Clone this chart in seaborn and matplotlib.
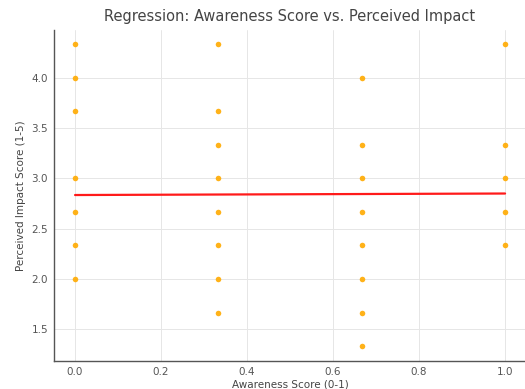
import matplotlib
matplotlib.use("Agg")
import matplotlib.pyplot as plt
import seaborn as sns
import numpy as np
import pandas as pd

# Data
awareness = [0.0] * 7 + [1/3] * 8 + [2/3] * 8 + [1.0] * 5
impact = [
    13/3, 4.0, 11/3, 3.0, 8/3, 7/3, 2.0,
    13/3, 11/3, 10/3, 3.0, 8/3, 7/3, 2.0, 5/3,
    4.0, 10/3, 3.0, 8/3, 7/3, 2.0, 5/3, 4/3,
    13/3, 10/3, 3.0, 8/3, 7/3,
]
# Fitted regression line (as drawn in the reference)
fit_x = [0.0, 1.0]
fit_y = [2.835, 2.85]

title = "Regression: Awareness Score vs. Perceived Impact"
xlabel = "Awareness Score (0-1)"
ylabel = "Perceived Impact Score (1-5)"

sns.set_theme(style="whitegrid")
plt.rcParams["font.family"] = ["DejaVu Sans"]

df = pd.DataFrame({"x": awareness, "y": impact})
fit = pd.DataFrame({"x": fit_x, "y": fit_y})

fig = plt.figure(figsize=(5.25, 3.89), dpi=100)
ax = fig.add_axes([0.102, 0.072, 0.901, 0.852])

sns.scatterplot(data=df, x="x", y="y", ax=ax, color="#FFAA00",
                s=16, linewidth=0, alpha=0.9)
sns.lineplot(data=fit, x="x", y="y", ax=ax, color="#FF1A1A", linewidth=1.6)

ax.set_xlim(-0.05, 1.05)
ax.set_ylim(1.185, 4.48)
ax.set_yticks([1.5, 2.0, 2.5, 3.0, 3.5, 4.0])
ax.set_xticks([0.0, 0.2, 0.4, 0.6, 0.8, 1.0])

ax.set_title(title, fontsize=10.5, color="#444444", pad=6)
ax.set_xlabel(xlabel, fontsize=7.5, color="#444444", labelpad=2)
ax.set_ylabel(ylabel, fontsize=7.5, color="#444444", labelpad=4)
ax.tick_params(axis="both", labelsize=7.5, colors="#555555", length=2, width=0.6,
               pad=2)
for lab in ax.get_xticklabels() + ax.get_yticklabels():
    lab.set_color("#555555")

ax.grid(True, color="#E6E6E6", linewidth=0.7)
for side in ["top", "right"]:
    ax.spines[side].set_visible(False)
for side in ["left", "bottom"]:
    ax.spines[side].set_color("#555555")
    ax.spines[side].set_linewidth(1.0)

fig.savefig("out.png", dpi=100)
